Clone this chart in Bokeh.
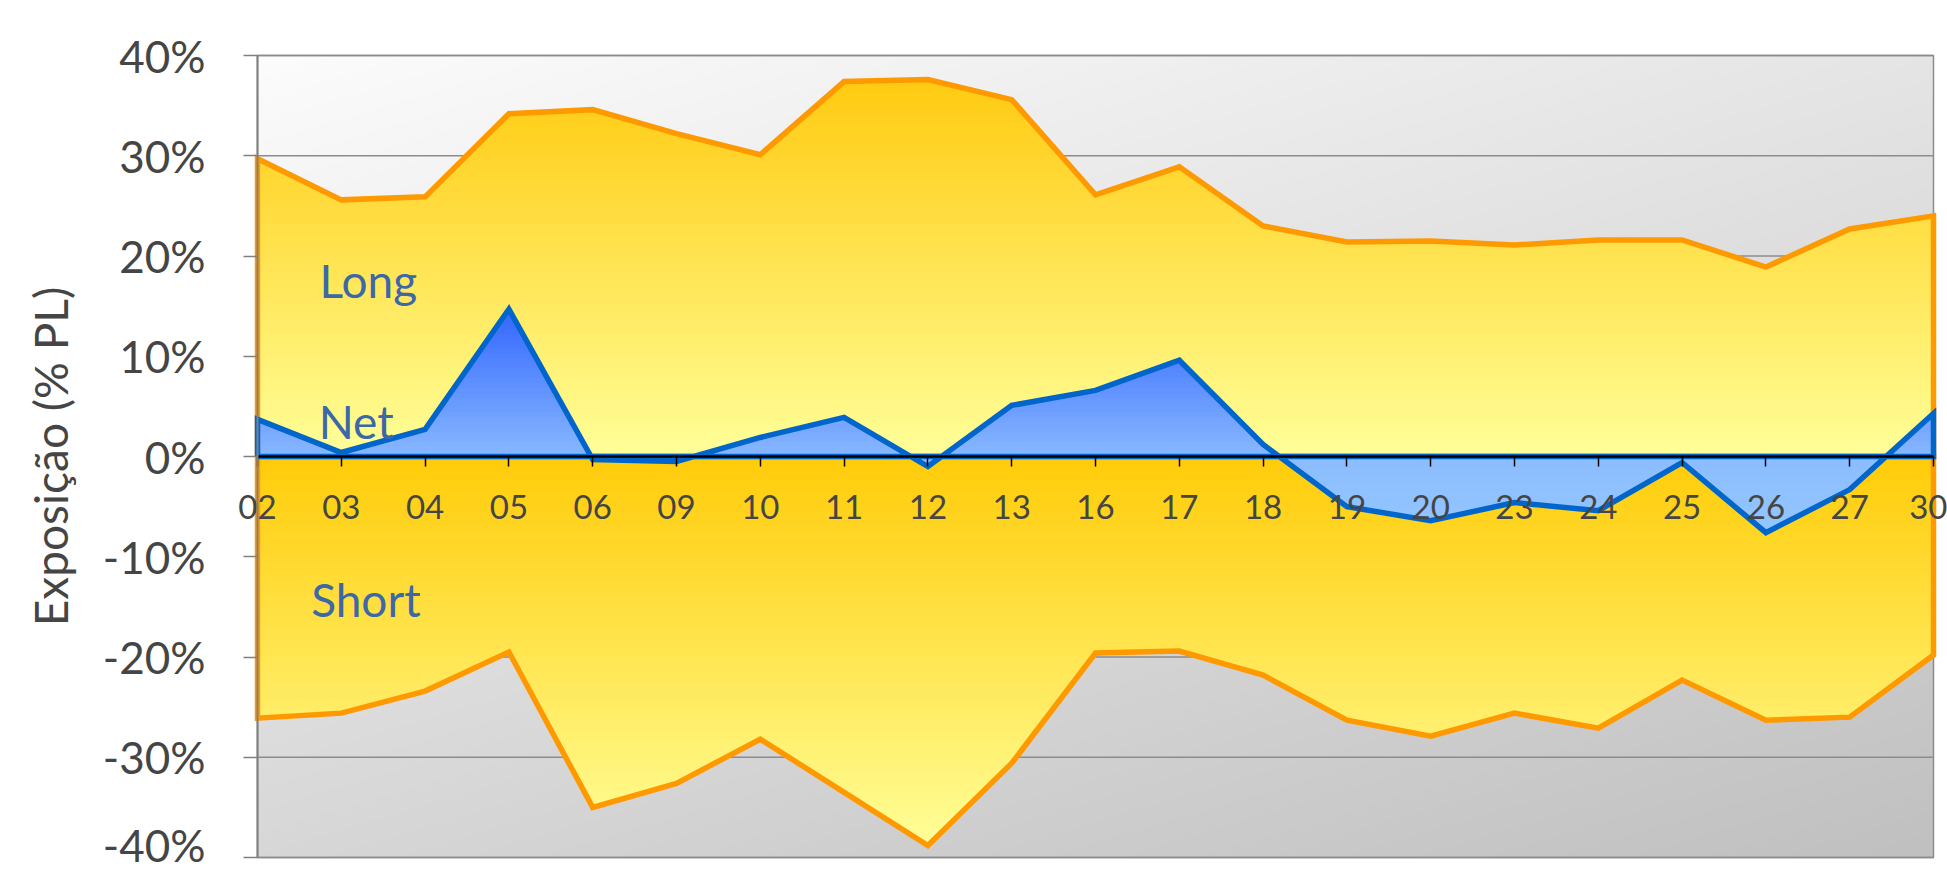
import numpy as np
from bokeh.plotting import figure
from bokeh.models import LinearAxis, FixedTicker, Label
from bokeh.embed import file_html
from bokeh.resources import INLINE

# ---------------- data ----------------
categories = ["02", "03", "04", "05", "06", "09", "10", "11", "12", "13", "16",
              "17", "18", "19", "20", "23", "24", "25", "26", "27", "30"]
long_exp = [29.7, 25.6, 25.9, 34.2, 34.6, 32.2, 30.1, 37.4, 37.6, 35.6, 26.1,
            28.9, 23.0, 21.4, 21.5, 21.1, 21.6, 21.6, 18.9, 22.7, 24.0]
short_exp = [-26.1, -25.6, -23.4, -19.5, -35.0, -32.6, -28.2, -33.5, -38.8, -30.6, -19.6,
             -19.4, -21.8, -26.3, -27.9, -25.6, -27.1, -22.3, -26.3, -26.0, -19.8]
net_exp = [3.7, 0.4, 2.7, 14.7, -0.3, -0.5, 1.9, 3.9, -1.0, 5.1, 6.6,
           9.6, 1.2, -5.0, -6.4, -4.6, -5.4, -0.6, -7.6, -3.3, 4.3]

y_ticks = [-40, -30, -20, -10, 0, 10, 20, 30, 40]
y_tick_labels = ["-40%", "-30%", "-20%", "-10%", "0%", "10%", "20%", "30%", "40%"]
y_title = "Exposição (% PL)"

series_labels = ["Long", "Net", "Short"]
series_label_x = [0.74, 0.73, 0.64]
series_label_y = [17.6, 3.5, -14.3]

FONT = "Lato"
TEXT_GREY = "#454545"
LABEL_BLUE = "#3d68a8"
ORANGE = "#FF9900"
NET_BLUE = "#0066CC"
FRAME_GREY = "#8c8c8c"

x = np.arange(len(categories), dtype=float)
xmin, xmax = float(x[0]), float(x[-1])
ymin, ymax = float(y_ticks[0]), float(y_ticks[-1])

# canvas geometry: plot area from px 257..1933 horizontally and 55..857 vertically
W, H = 1947, 870
left_px, right_px, top_px, bottom_px = 257, 1933, 55, 857
sx = (right_px - left_px) / (xmax - xmin)
sy = (bottom_px - top_px) / (ymax - ymin)
x_range = (xmin - left_px / sx, xmax + (W - right_px) / sx)
y_range = (ymin - (H - bottom_px) / sy, ymax + top_px / sy)

p = figure(width=W, height=H, x_range=x_range, y_range=y_range,
           x_axis_type=None, y_axis_type=None, output_backend="svg", toolbar_location=None,
           min_border=0, background_fill_color="white", border_fill_color="white")
p.outline_line_color = None
p.grid.visible = False

# ---------------- background diagonal gradient ----------------
ny, nx = 200, 400
fy = np.linspace(1.0, 0.0, ny)[:, None]   # row 0 is the bottom of the plot area
fx = np.linspace(0.0, 1.0, nx)[None, :]
g = np.clip(252 - 23 * fx - 37 * fy, 0, 255).astype(np.uint8)
img = np.empty((ny, nx), dtype=np.uint32)
view = img.view(dtype=np.uint8).reshape((ny, nx, 4))
view[..., 0] = g
view[..., 1] = g
view[..., 2] = g
view[..., 3] = 255
p.image_rgba(image=[img], x=xmin, y=ymin, dw=xmax - xmin, dh=ymax - ymin, level="image")

# ---------------- grid lines and plot-area border ----------------
p.segment(x0=[xmin] * len(y_ticks), x1=[xmax] * len(y_ticks), y0=y_ticks, y1=y_ticks,
          line_color=FRAME_GREY, line_width=1.5, level="underlay")
p.quad(left=[xmin], right=[xmax], bottom=[ymin], top=[ymax], fill_color=None,
       line_color=FRAME_GREY, line_width=1.5, level="underlay")


def lerp_color(c0, c1, t):
    t = min(max(t, 0.0), 1.0)
    r = int(round(c0[0] + (c1[0] - c0[0]) * t))
    gg = int(round(c0[1] + (c1[1] - c0[1]) * t))
    b = int(round(c0[2] + (c1[2] - c0[2]) * t))
    return "#%02x%02x%02x" % (r, gg, b)


def band_geometry(xs, ys, lo, hi):
    pts = list(xs)
    for i in range(len(xs) - 1):
        x0, x1, y0, y1 = xs[i], xs[i + 1], ys[i], ys[i + 1]
        for L in (lo, hi):
            if (y0 - L) * (y1 - L) < 0:
                t = (L - y0) / (y1 - y0)
                pts.append(x0 + t * (x1 - x0))
    px = np.unique(np.array(pts, dtype=float))
    py = np.interp(px, xs, ys)
    return px, np.clip(py, lo, hi)


def gradient_area(xs, ys, lo, hi, c_lo, c_hi, n):
    ys = np.asarray(ys, dtype=float)
    edges = np.linspace(lo, hi, n + 1)
    eps = (hi - lo) / n * 0.6
    positive = lo >= 0
    for k in range(n):
        a, b = edges[k], edges[k + 1]
        t = (0.5 * (a + b) - lo) / (hi - lo)
        col = lerp_color(c_lo, c_hi, t)
        if positive:
            a2, b2 = a, min(b + eps, hi)
            px, py = band_geometry(xs, ys, a2, b2)
            p.varea(x=px, y1=np.full_like(px, a2), y2=py, fill_color=col, fill_alpha=1.0)
        else:
            a2, b2 = max(a - eps, lo), b
            px, py = band_geometry(xs, ys, a2, b2)
            p.varea(x=px, y1=py, y2=np.full_like(px, b2), fill_color=col, fill_alpha=1.0)


def outline(xs, ys, color):
    ox = [xs[0]] + list(xs) + [xs[-1], xs[0]]
    oy = [0.0] + list(ys) + [0.0, 0.0]
    p.line(ox, oy, line_color=color, line_width=5.5, line_join="miter")


GOLD = (255, 202, 16)
PALE = (255, 255, 153)

# Long
gradient_area(x, long_exp, 0.0, max(long_exp), PALE, GOLD, 60)
outline(x, long_exp, ORANGE)
# Short
gradient_area(x, short_exp, min(short_exp), 0.0, PALE, (255, 204, 10), 60)
outline(x, short_exp, ORANGE)
# Net
gradient_area(x, net_exp, 0.0, max(net_exp), (136, 184, 255), (51, 102, 255), 30)
gradient_area(x, net_exp, min(net_exp), 0.0, (148, 198, 255), (140, 190, 255), 10)
outline(x, net_exp, NET_BLUE)

# ---------------- value axis (at x = first category) ----------------
yax = LinearAxis(ticker=FixedTicker(ticks=y_ticks),
                 major_label_overrides={t: l for t, l in zip(y_ticks, y_tick_labels)},
                 fixed_location=xmin, bounds=(ymin, ymax))
yax.major_label_text_font = FONT
yax.major_label_text_font_size = "44px"
yax.major_label_text_color = TEXT_GREY
yax.major_label_standoff = 38
yax.major_tick_out = 14
yax.major_tick_in = 0
yax.minor_tick_line_color = None
yax.axis_line_color = "#808080"
yax.axis_line_width = 2
yax.major_tick_line_color = "#808080"
yax.major_tick_line_width = 1.5
yax.axis_label = y_title
yax.axis_label_text_font = FONT
yax.axis_label_text_font_size = "46px"
yax.axis_label_text_font_style = "normal"
yax.axis_label_text_color = TEXT_GREY
yax.axis_label_standoff = 22
p.add_layout(yax, "left")

# ---------------- category axis (at y = 0) ----------------
xax = LinearAxis(ticker=FixedTicker(ticks=list(x)),
                 major_label_overrides={float(i): c for i, c in zip(x, categories)},
                 fixed_location=0, bounds=(xmin, xmax))
xax.axis_line_color = "black"
xax.axis_line_width = 2.5
xax.major_tick_line_color = "black"
xax.major_tick_line_width = 1.5
xax.major_tick_out = 10
xax.major_tick_in = 0
xax.minor_tick_line_color = None
xax.major_label_text_font = FONT
xax.major_label_text_font_size = "33px"
xax.major_label_text_color = TEXT_GREY
xax.major_label_standoff = 28
p.add_layout(xax, "below")

for t, lx, ly in zip(series_labels, series_label_x, series_label_y):
    p.add_layout(Label(x=lx, y=ly, text=t, text_font=FONT, text_font_size="46px",
                       text_color=LABEL_BLUE, text_baseline="alphabetic", text_align="left"))

open("out.html", "w").write(file_html(p, INLINE))
